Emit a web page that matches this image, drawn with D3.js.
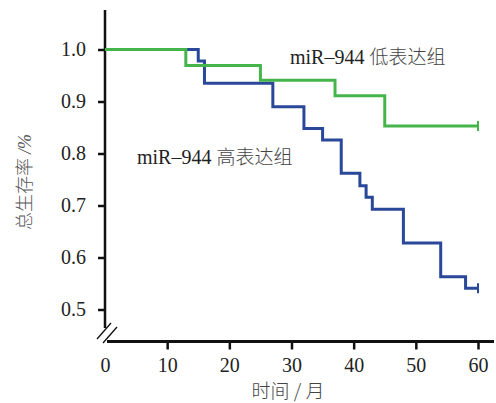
<!DOCTYPE html>
<html lang='zh'>
    <head>
        <meta charset="utf-8">
        <title>KM curve</title>
        <script src='https://d3js.org/d3.v7.min.js'></script>
        <style>
            body { margin: 0; background: #fff; }
        </style>
    </head>
    <body>
        <script type='text/javascript'>
            var w = 496;
            var h = 403;

            // survival data (months, survival rate)
            var lowTimes = [0, 13, 25, 37, 45, 60];
            var lowSurv  = [1.0, 0.969, 0.941, 0.911, 0.853, 0.853];
            var highTimes = [0, 15, 16, 27, 32, 35, 38, 41, 42, 43, 48, 54, 58, 60];
            var highSurv  = [1.0, 0.978, 0.935, 0.890, 0.848, 0.826, 0.762, 0.738, 0.716, 0.693, 0.628, 0.563, 0.541, 0.541];
            var xTicks = [0, 10, 20, 30, 40, 50, 60];
            var yTicks = [0.5, 0.6, 0.7, 0.8, 0.9, 1.0];
            var lowLabel = '低表达组';
            var highLabel = '高表达组';

            var serif = "'Liberation Serif', 'DejaVu Serif', serif";
            var cjk = "'Noto Sans CJK SC', sans-serif";

            var xScale = d3.scaleLinear().domain([0, 60]).range([105, 478]);
            var yScale = d3.scaleLinear().domain([0.5, 1.0]).range([309.5, 49.5]);

            var svg = d3.select('body').append('svg')
                .attr('width', w)
                .attr('height', h);

            // y axis
            var yAxis = svg.append('g')
                .attr('transform', 'translate(105,0)')
                .call(d3.axisLeft(yScale).tickValues(yTicks).tickFormat(d3.format('.1f')).tickSize(7).tickSizeOuter(0).tickPadding(12));
            yAxis.select('.domain').remove();
            yAxis.selectAll('.tick line').attr('stroke', '#111').attr('stroke-width', 2.5);
            yAxis.selectAll('.tick text').attr('font-family', serif).attr('font-size', '20px').attr('fill', '#222');

            svg.append('line')
                .attr('x1', 105).attr('x2', 105)
                .attr('y1', 10).attr('y2', 328)
                .attr('stroke', '#111').attr('stroke-width', 2.5);

            // x axis
            var xAxis = svg.append('g')
                .attr('transform', 'translate(0,341.5)')
                .call(d3.axisBottom(xScale).tickValues(xTicks).tickSize(8).tickSizeOuter(0).tickPadding(8));
            xAxis.select('.domain').remove();
            xAxis.selectAll('.tick line')
                .attr('stroke', '#111').attr('stroke-width', 2.5)
                .attr('opacity', function(d){ return d === 0 ? 0 : 1; });
            xAxis.selectAll('.tick text').attr('font-family', serif).attr('font-size', '20px').attr('fill', '#222');

            svg.append('line')
                .attr('x1', 107).attr('x2', 494)
                .attr('y1', 341.5).attr('y2', 341.5)
                .attr('stroke', '#111').attr('stroke-width', 3);

            // axis break marks
            svg.append('line').attr('x1', 97).attr('y1', 339).attr('x2', 111).attr('y2', 323)
                .attr('stroke', '#111').attr('stroke-width', 1.3);
            svg.append('line').attr('x1', 103).attr('y1', 343).attr('x2', 117).attr('y2', 327)
                .attr('stroke', '#111').attr('stroke-width', 1.3);

            // curves
            var line = d3.line()
                .x(function(d){ return xScale(d[0]); })
                .y(function(d){ return yScale(d[1]); })
                .curve(d3.curveStepAfter);

            function drawCurve(times, surv, color){
                var pts = times.map(function(t, i){ return [t, surv[i]]; });
                svg.append('path')
                    .datum(pts)
                    .attr('d', line)
                    .attr('fill', 'none')
                    .attr('stroke', color)
                    .attr('stroke-width', 3);
                var last = pts[pts.length - 1];
                svg.append('line')
                    .attr('x1', xScale(last[0])).attr('x2', xScale(last[0]))
                    .attr('y1', yScale(last[1]) - 5).attr('y2', yScale(last[1]) + 5)
                    .attr('stroke', color).attr('stroke-width', 2);
            }
            drawCurve(highTimes, highSurv, '#2a4899');
            drawCurve(lowTimes, lowSurv, '#45b54b');

            // group labels
            function groupLabel(x, y, txt){
                var t = svg.append('text')
                    .attr('x', x).attr('y', y);
                t.append('tspan').attr('font-family', serif).attr('font-size', '20px').attr('fill', '#222').text('miR\u2013944 ');
                t.append('tspan').attr('font-family', cjk).attr('font-size', '19px').attr('font-weight', 300).attr('fill', '#444').text(txt);
            }
            groupLabel(290, 64, lowLabel);
            groupLabel(137, 164, highLabel);

            // axis titles
            var yt = svg.append('text')
                .attr('transform', 'translate(31,182) rotate(-90)')
                .attr('text-anchor', 'middle')
                .attr('fill', '#555');
            yt.append('tspan').attr('font-family', cjk).attr('font-size', '18px').attr('font-weight', 300).text('总生存率 ');
            yt.append('tspan').attr('font-family', serif).attr('font-style', 'italic').attr('font-size', '18px').text('/%');

            svg.append('text')
                .attr('x', 288).attr('y', 398)
                .attr('text-anchor', 'middle')
                .attr('font-family', cjk)
                .attr('font-size', '19px')
                .attr('font-weight', 300)
                .attr('fill', '#444')
                .text('时间 / 月');
        </script>
    </body>
</html>
